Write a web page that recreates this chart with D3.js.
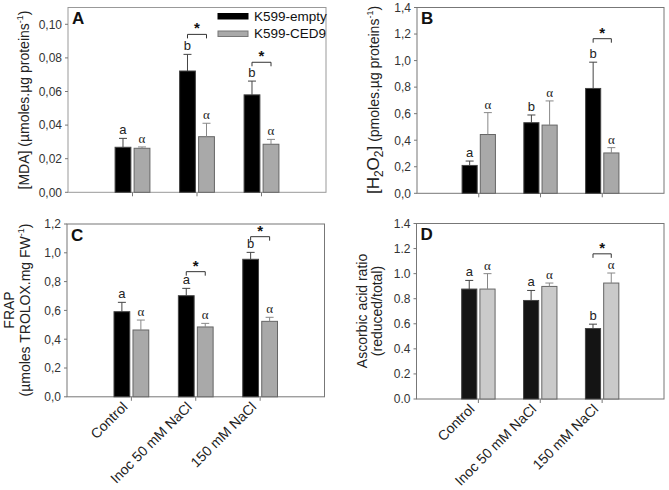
<!DOCTYPE html>
<html><head><meta charset="utf-8">
<script src="https://cdn.jsdelivr.net/npm/d3@7"></script>
<style>body{margin:0;background:#fff}svg{display:block;font-family:Arial,"Liberation Sans",sans-serif}</style>
</head><body><svg id="c" width="669" height="490"></svg>
<script>
const categories = ["Control", "Inoc 50 mM NaCl", "150 mM NaCl"];
const seriesNames = ["K599-empty", "K599-CED9"];

const mdaEmpty = [0.0268, 0.0722, 0.0580];
const mdaEmptyErr = [0.0053, 0.0099, 0.0082];
const mdaCed9 = [0.0262, 0.0331, 0.0286];
const mdaCed9Err = [0.0008, 0.0080, 0.0029];
const mdaLettersEmpty = ["a", "b", "b"];
const mdaLettersCed9 = ["α", "α", "α"];
const mdaBrackets = [null, 0.094, 0.0774];
const mdaTicks = [0, 0.02, 0.04, 0.06, 0.08, 0.10];

const h2o2Empty = [0.210, 0.532, 0.790];
const h2o2EmptyErr = [0.033, 0.058, 0.198];
const h2o2Ced9 = [0.443, 0.514, 0.304];
const h2o2Ced9Err = [0.165, 0.182, 0.040];
const h2o2LettersEmpty = ["a", "b", "b"];
const h2o2LettersCed9 = ["α", "α", "α"];
const h2o2Brackets = [null, null, 1.165];
const h2o2Ticks = [0, 0.2, 0.4, 0.6, 0.8, 1.0, 1.2, 1.4];

const frapEmpty = [0.591, 0.702, 0.955];
const frapEmptyErr = [0.065, 0.051, 0.048];
const frapCed9 = [0.464, 0.485, 0.524];
const frapCed9Err = [0.069, 0.025, 0.028];
const frapLettersEmpty = ["a", "a", "b"];
const frapLettersCed9 = ["α", "α", "α"];
const frapBrackets = [null, 0.869, 1.112];
const frapTicks = [0, 0.2, 0.4, 0.6, 0.8, 1.0, 1.2];

const ascEmpty = [0.877, 0.786, 0.562];
const ascEmptyErr = [0.069, 0.080, 0.035];
const ascCed9 = [0.877, 0.898, 0.925];
const ascCed9Err = [0.123, 0.027, 0.080];
const ascLettersEmpty = ["a", "a", "b"];
const ascLettersCed9 = ["α", "α", "α"];
const ascBrackets = [null, null, 1.158];
const ascTicks = [0, 0.2, 0.4, 0.6, 0.8, 1.0, 1.2, 1.4];

const svg = d3.select("#c");

function panel(o) {
  const g = svg.append("g");
  const x = d3.scaleLinear().domain([0, 4]).range([o.left, o.right]);
  const y = d3.scaleLinear().domain([0, o.ymax]).range([o.bottom, o.top]);
  const bw = 0.245, gap = 0.025;
  g.append("rect").attr("x", o.left).attr("y", o.top).attr("width", o.right - o.left)
    .attr("height", o.bottom - o.top).attr("fill", "none").attr("stroke", o.frameColor || "#777").attr("stroke-width", 1);
  const groups = [
    {vals: o.empty, errs: o.emptyErr, letters: o.lettersEmpty, fill: o.blackFill, stroke: "#444", errColor: "#444", off: -gap - bw, font: o.letterFont},
    {vals: o.ced9, errs: o.ced9Err, letters: o.lettersCed9, fill: o.greyFill, stroke: "#666", errColor: "#888", off: gap, font: o.alphaFont}
  ];
  groups.forEach(s => {
    categories.forEach((c, i) => {
      const x0 = x(i + 1 + s.off), x1 = x(i + 1 + s.off + bw), xm = (x0 + x1) / 2;
      g.append("rect").attr("x", x0).attr("y", y(s.vals[i])).attr("width", x1 - x0)
        .attr("height", y(0) - y(s.vals[i])).attr("fill", s.fill).attr("stroke", s.stroke).attr("stroke-width", 1);
      const yt = y(s.vals[i] + s.errs[i]);
      g.append("line").attr("x1", xm).attr("x2", xm).attr("y1", y(s.vals[i])).attr("y2", yt).attr("stroke", s.errColor);
      g.append("line").attr("x1", xm - 4).attr("x2", xm + 4).attr("y1", yt).attr("y2", yt).attr("stroke", s.errColor);
      g.append("text").attr("x", xm).attr("y", yt - 4).attr("text-anchor", "middle")
        .attr("font-size", 13).attr("fill", "#222").attr("font-family", s.font).text(s.letters[i]);
    });
  });
  o.brackets.forEach((b, i) => {
    if (b == null) return;
    const xa = x(i + 1 - gap - bw / 2), xb = x(i + 1 + gap + bw / 2), yb = y(b);
    g.append("path").attr("d", `M${xa},${yb + 4}V${yb}H${xb}V${yb + 4}`).attr("fill", "none").attr("stroke", "#333");
    g.append("text").attr("x", (xa + xb) / 2).attr("y", yb - 1).attr("text-anchor", "middle")
      .attr("font-size", 15).attr("font-weight", "bold").attr("fill", "#111").text("*");
  });
  o.ticks.forEach(t => {
    g.append("line").attr("x1", o.left - 3).attr("x2", o.left).attr("y1", y(t)).attr("y2", y(t)).attr("stroke", "#777");
    g.append("text").attr("x", o.left - 6).attr("y", y(t) + 4.3).attr("text-anchor", "end")
      .attr("font-size", 12).attr("fill", "#333").text(o.fmt(t));
  });
  categories.forEach((c, i) => {
    g.append("line").attr("x1", x(i + 1)).attr("x2", x(i + 1)).attr("y1", o.bottom).attr("y2", o.bottom + 4).attr("stroke", "#777");
    if (o.xlabels) {
      g.append("text").attr("transform", `translate(${x(i + 1) - 3},${o.bottom + 11}) rotate(-45)`)
        .attr("text-anchor", "end").attr("font-size", 14).attr("fill", "#222").text(c);
    }
  });
  g.append("text").attr("x", o.left + 4).attr("y", o.top + 16.5).attr("font-size", 17)
    .attr("font-weight", "bold").attr("fill", "#111").text(o.letter);
  return {g, x, y};
}

const comma = d => d3.format(".1f")(d).replace(".", ",");
const serif = "'Liberation Serif', 'DejaVu Serif', serif";
panel({left: 68, right: 326, top: 7.5, bottom: 192.3, ymax: 0.11, ticks: mdaTicks,
  fmt: d => d3.format(".2f")(d).replace(".", ","), empty: mdaEmpty, emptyErr: mdaEmptyErr, ced9: mdaCed9, ced9Err: mdaCed9Err,
  lettersEmpty: mdaLettersEmpty, lettersCed9: mdaLettersCed9, brackets: mdaBrackets, blackFill: "#000", greyFill: "#a9a9a9",
  letter: "A", letterFont: "Arial", alphaFont: serif, frameColor: "#999"});
panel({left: 417, right: 664, top: 7.5, bottom: 193.3, ymax: 1.4, ticks: h2o2Ticks, fmt: comma,
  empty: h2o2Empty, emptyErr: h2o2EmptyErr, ced9: h2o2Ced9, ced9Err: h2o2Ced9Err,
  lettersEmpty: h2o2LettersEmpty, lettersCed9: h2o2LettersCed9, brackets: h2o2Brackets, blackFill: "#000", greyFill: "#a9a9a9",
  letter: "B", letterFont: "Arial", alphaFont: serif});
panel({left: 67, right: 324.5, top: 224, bottom: 396.8, ymax: 1.2, ticks: frapTicks, fmt: comma,
  empty: frapEmpty, emptyErr: frapEmptyErr, ced9: frapCed9, ced9Err: frapCed9Err,
  lettersEmpty: frapLettersEmpty, lettersCed9: frapLettersCed9, brackets: frapBrackets, blackFill: "#000", greyFill: "#a9a9a9",
  letter: "C", letterFont: "Arial", alphaFont: serif, xlabels: true});
panel({left: 416.5, right: 664, top: 223.5, bottom: 399, ymax: 1.4, ticks: ascTicks, fmt: d3.format(".1f"),
  empty: ascEmpty, emptyErr: ascEmptyErr, ced9: ascCed9, ced9Err: ascCed9Err,
  lettersEmpty: ascLettersEmpty, lettersCed9: ascLettersCed9, brackets: ascBrackets, blackFill: "#141414", greyFill: "#cacaca",
  letter: "D", letterFont: "Arial", alphaFont: serif, xlabels: true});

const leg = svg.append("g");
seriesNames.forEach((s, i) => {
  leg.append("rect").attr("x", 218).attr("y", 13.5 + i * 17.5).attr("width", 30).attr("height", 5.5)
    .attr("fill", i === 0 ? "#000" : "#a9a9a9").attr("stroke", i === 0 ? "#000" : "#777");
  leg.append("text").attr("x", 254).attr("y", 20.7 + i * 17.3).attr("font-size", 13.5).attr("fill", "#111").text(s);
});

function ylab(x, y, build) {
  const t = svg.append("text").attr("transform", `translate(${x},${y}) rotate(-90)`).attr("text-anchor", "middle")
    .attr("font-size", 14).attr("fill", "#222");
  build(t);
}
ylab(29, 100, t => {
  t.append("tspan").text("[MDA] (µmoles.µg proteins");
  t.append("tspan").attr("font-size", 9).attr("dy", -6).text("-1");
  t.append("tspan").attr("dy", 6).text(")");
});
ylab(379, 100, t => {
  t.append("tspan").attr("font-size", 17).text("[H");
  t.append("tspan").attr("font-size", 12).attr("dy", 4).text("2");
  t.append("tspan").attr("font-size", 17).attr("dy", -4).text("O");
  t.append("tspan").attr("font-size", 12).attr("dy", 4).text("2");
  t.append("tspan").attr("font-size", 17).attr("dy", -4).text("]");
  t.append("tspan").text(" (pmoles.µg proteins");
  t.append("tspan").attr("font-size", 9).attr("dy", -6).text("-1");
  t.append("tspan").attr("dy", 6).text(")");
});
ylab(13.5, 310, t => t.text("FRAP"));
ylab(30, 310, t => {
  t.append("tspan").text("(µmoles TROLOX.mg FW");
  t.append("tspan").attr("font-size", 9).attr("dy", -6).text("-1");
  t.append("tspan").attr("dy", 6).text(")");
});
ylab(367, 311, t => t.text("Ascorbic acid ratio"));
ylab(382, 311, t => t.text("(reduced/total)"));
</script></body></html>
